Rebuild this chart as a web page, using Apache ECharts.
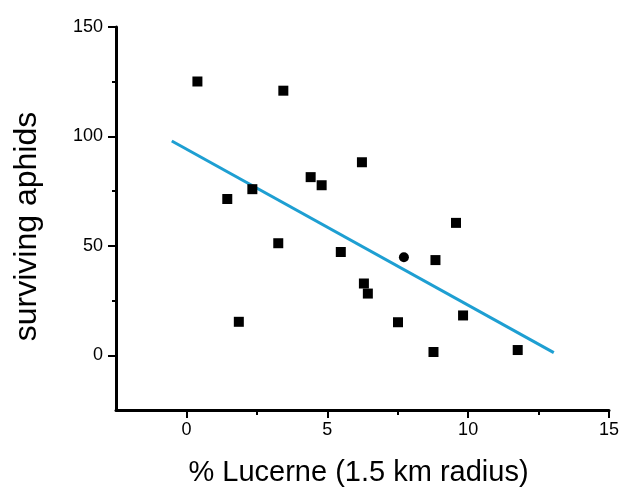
<!DOCTYPE html>
<html><head><meta charset="utf-8">
<script src="https://cdn.jsdelivr.net/npm/echarts@6/dist/echarts.min.js"></script>
<style>html,body{margin:0;padding:0;background:#fff}#c{width:622px;height:492px}</style>
</head><body><div id="c"></div>
<script>
const lucerneX = [0.39, 3.44, 1.45, 2.34, 3.26, 1.86, 4.41, 4.80, 5.48, 6.23, 6.30, 6.44, 7.72, 8.84, 7.51, 8.77, 9.57, 9.82, 11.76];
const aphidsY  = [125.1, 120.9, 71.4, 75.9, 51.2, 15.3, 81.4, 77.7, 47.2, 88.2, 32.8, 28.2, 44.8, 43.5, 15.1, 1.5, 60.5, 18.2, 2.4];
const markerShape = ['rect','rect','rect','rect','rect','rect','rect','rect','rect','rect','rect','rect','circle','rect','rect','rect','rect','rect','rect'];
const fitX = [-0.52, 13.04];
const fitY = [97.9, 1.2];
const xTicks = [0, 5, 10, 15];
const xMinorTicks = [2.5, 7.5, 12.5];
const yTicks = [0, 50, 100, 150];
const yMinorTicks = [25, 75, 125];

const chart = echarts.init(document.getElementById('c'));
const font = 'Liberation Sans, Arial, sans-serif';
const xRange = {type: 'value', min: -2.5, max: 15};
const yRange = {type: 'value', min: -25, max: 150};
chart.setOption({
  animation: false,
  grid: {left: 116, right: 12, top: 27, bottom: 79, containLabel: false},
  xAxis: [
    Object.assign({}, xRange, {
      position: 'bottom',
      name: '% Lucerne (1.5 km radius)', nameLocation: 'middle', nameGap: 48,
      nameTextStyle: {fontFamily: font, fontSize: 29, color: '#000', padding: [0, 8, 0, 0]},
      axisLine: {onZero: false, lineStyle: {color: '#000', width: 3}},
      axisTick: {show: true, length: 8, customValues: xTicks, lineStyle: {color: '#000', width: 2}},
      axisLabel: {customValues: xTicks, fontFamily: font, fontSize: 18, color: '#000', margin: 11},
      splitLine: {show: false}
    }),
    Object.assign({}, xRange, {
      position: 'bottom', offset: 0,
      axisLine: {show: false, onZero: false},
      axisTick: {show: true, length: 5, customValues: xMinorTicks, lineStyle: {color: '#000', width: 2}},
      axisLabel: {show: false},
      splitLine: {show: false}
    })
  ],
  yAxis: [
    Object.assign({}, yRange, {
      position: 'left',
      name: 'surviving aphids', nameLocation: 'middle', nameGap: 73,
      nameTextStyle: {fontFamily: font, fontSize: 32, color: '#000', padding: [0, 16, 0, 0]},
      axisLine: {show: true, onZero: false, lineStyle: {color: '#000', width: 3}},
      axisTick: {show: true, length: 8, customValues: yTicks, lineStyle: {color: '#000', width: 2}},
      axisLabel: {customValues: yTicks, fontFamily: font, fontSize: 18, color: '#000', margin: 13},
      splitLine: {show: false}
    }),
    Object.assign({}, yRange, {
      position: 'left', offset: 0,
      axisLine: {show: false, onZero: false},
      axisTick: {show: true, length: 4, customValues: yMinorTicks, lineStyle: {color: '#000', width: 2}},
      axisLabel: {show: false},
      splitLine: {show: false}
    })
  ],
  series: [
    {
      type: 'line', data: fitX.map((x, i) => [x, fitY[i]]),
      symbol: 'none', lineStyle: {color: '#1e9fd2', width: 3}, z: 2
    },
    {
      type: 'scatter',
      data: lucerneX.map((x, i) => ({value: [x, aphidsY[i]], symbol: markerShape[i]})),
      symbolSize: 10, itemStyle: {color: '#000', opacity: 1}, z: 3
    }
  ]
});
</script></body></html>
